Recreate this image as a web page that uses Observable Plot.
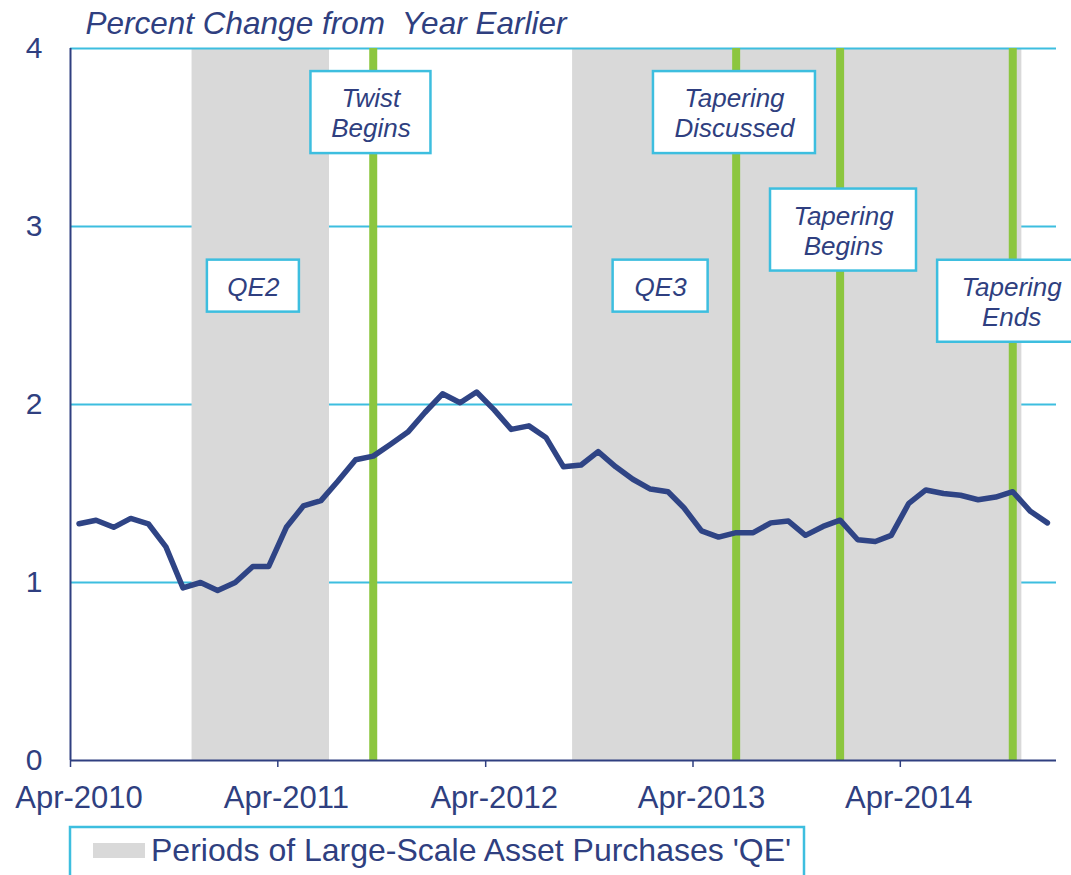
<!DOCTYPE html>
<html><head><meta charset="utf-8">
<script src="https://cdn.jsdelivr.net/npm/d3@7"></script>
<script src="https://cdn.jsdelivr.net/npm/@observablehq/plot@0.6"></script>
<style>
html,body{margin:0;padding:0;background:#fff;}
#chart svg text{white-space:pre;}
</style></head><body><div id="chart"></div>
<script>
// ---- data ----
const months = [
  "2010-04","2010-05","2010-06","2010-07","2010-08","2010-09","2010-10","2010-11","2010-12",
  "2011-01","2011-02","2011-03","2011-04","2011-05","2011-06","2011-07","2011-08","2011-09","2011-10","2011-11","2011-12",
  "2012-01","2012-02","2012-03","2012-04","2012-05","2012-06","2012-07","2012-08","2012-09","2012-10","2012-11","2012-12",
  "2013-01","2013-02","2013-03","2013-04","2013-05","2013-06","2013-07","2013-08","2013-09","2013-10","2013-11","2013-12",
  "2014-01","2014-02","2014-03","2014-04","2014-05","2014-06","2014-07","2014-08","2014-09","2014-10","2014-11","2014-12"
];
const values = [
  1.33,1.35,1.31,1.36,1.33,1.20,0.97,1.00,0.955,
  1.00,1.09,1.09,1.31,1.43,1.46,1.57,1.69,1.71,1.775,1.845,1.955,
  2.06,2.01,2.07,1.97,1.86,1.88,1.815,1.65,1.66,1.735,1.65,1.58,
  1.525,1.51,1.42,1.29,1.255,1.28,1.28,1.335,1.345,1.265,1.315,1.35,
  1.24,1.23,1.265,1.445,1.52,1.50,1.49,1.465,1.48,1.51,1.40,1.335
];
const tickMonths = ["2010-04","2011-04","2012-04","2013-04","2014-04"];
const yTicks = [0,1,2,3,4];
const qeNames = ["QE2","QE3"];
const qeStarts = ["2010-11-01","2012-09-01"];
const qeEnds = ["2011-07-01","2014-11-01"];
const eventNames = ["Twist Begins","Tapering Discussed","Tapering Begins","Tapering Ends"];
const eventMonths = ["2011-09","2013-06","2013-12","2014-10"];
const noteLabels = ["QE2","Twist\nBegins","QE3","Tapering\nDiscussed","Tapering\nBegins","Tapering\nEnds"];
const noteDates = ["2011-02-17","2011-09-12","2013-02-03","2013-06-13","2013-12-22","2014-10-14"];
const noteValues = [2.665,3.64,2.665,3.64,2.98,2.58];
const titleText = "Percent Change from  Year Earlier";
const legendText = "Periods of Large-Scale Asset Purchases 'QE'";

// ---- styles ----
const navy = "#2F3F80", lineNavy = "#2F4485", cyan = "#3DBEDF", green = "#8CC63F", gray = "#D9D9D9";
const boxSizes = [[92,52],[120,82],[95,52],[162,82],[146,82],[148,82]];
const font = "'Liberation Sans', Arial, Helvetica, sans-serif";

// ---- derived tables ----
const mid = s => { const [y,m] = s.split("-").map(Number); return new Date(Date.UTC(y, m-1, 16)); };
const first = s => { const [y,m] = s.split("-").map(Number); return new Date(Date.UTC(y, m-1, 1)); };
const series = months.map((m,i) => ({date: mid(m), value: values[i]}));
const periods = qeNames.map((n,i) => ({name: n, start: new Date(qeStarts[i]), end: new Date(qeEnds[i])}));
const events = eventNames.map((n,i) => ({name: n, date: mid(eventMonths[i])}));
const notes = noteLabels.map((l,i) => ({label: l, date: new Date(noteDates[i]), value: noteValues[i]}));

function noteBoxes(index, scales) {
  const g = d3.create("svg:g");
  notes.forEach((n,i) => {
    const [w,h] = boxSizes[i];
    const cx = scales.x(n.date), cy = scales.y(n.value);
    g.append("rect").attr("x", cx - w/2).attr("y", cy - h/2).attr("width", w).attr("height", h)
      .attr("fill", "white").attr("stroke", cyan).attr("stroke-width", 2.5);
  });
  return g.node();
}
function legendMark() {
  const g = d3.create("svg:g");
  g.append("rect").attr("x", 70).attr("y", 827).attr("width", 734).attr("height", 70)
    .attr("fill", "white").attr("stroke", cyan).attr("stroke-width", 2.5);
  g.append("rect").attr("x", 93).attr("y", 843).attr("width", 52).attr("height", 15).attr("fill", gray);
  g.append("text").attr("x", 151).attr("y", 861).attr("fill", navy).attr("text-anchor", "start")
    .attr("font-size", 32).attr("font-family", font).text(legendText);
  return g.node();
}

const chart = Plot.plot({
  width: 1071, height: 875,
  marginTop: 48, marginBottom: 115, marginLeft: 70, marginRight: 15,
  style: {fontFamily: font, background: "white", overflow: "hidden"},
  x: {type: "utc", domain: [first("2010-04"), first("2015-01")]},
  y: {domain: [0, 4]},
  marks: [
    Plot.ruleY([1,2,3], {stroke: cyan, strokeWidth: 2}),
    Plot.rect(periods, {x1: "start", x2: "end", fill: gray}),
    Plot.ruleY([4], {stroke: cyan, strokeWidth: 2}),
    Plot.ruleX(events, {x: "date", stroke: green, strokeWidth: 8}),
    Plot.ruleX([first("2010-04")], {stroke: navy, strokeWidth: 2}),
    Plot.ruleY([0], {stroke: navy, strokeWidth: 2}),
    Plot.axisX(tickMonths.map(first), {tickSize: 7, tickFormat: () => "", color: navy, strokeWidth: 1.5, label: null}),
    Plot.axisX(tickMonths.map(mid), {tickSize: 0, tickPadding: 25, tickFormat: "%b-%Y", fontSize: 31, color: navy, label: null}),
    Plot.axisY(yTicks, {tickSize: 0, tickPadding: 28, tickFormat: d => String(d), fontSize: 30, color: navy, label: null}),
    Plot.line(series, {x: "date", y: "value", stroke: lineNavy, strokeWidth: 5.5, strokeLinejoin: "round"}),
    noteBoxes,
    Plot.text(notes, {x: "date", y: "value", text: "label", fontSize: 26, fontStyle: "italic",
      lineHeight: 1.16, lineAnchor: "middle", fill: navy}),
    Plot.text([titleText], {frameAnchor: "top-left", dx: 15, dy: -37, lineAnchor: "top", textAnchor: "start",
      fontSize: 31.5, fontStyle: "italic", fill: navy}),
    legendMark
  ]
});
document.getElementById("chart").appendChild(chart);
</script></body></html>
